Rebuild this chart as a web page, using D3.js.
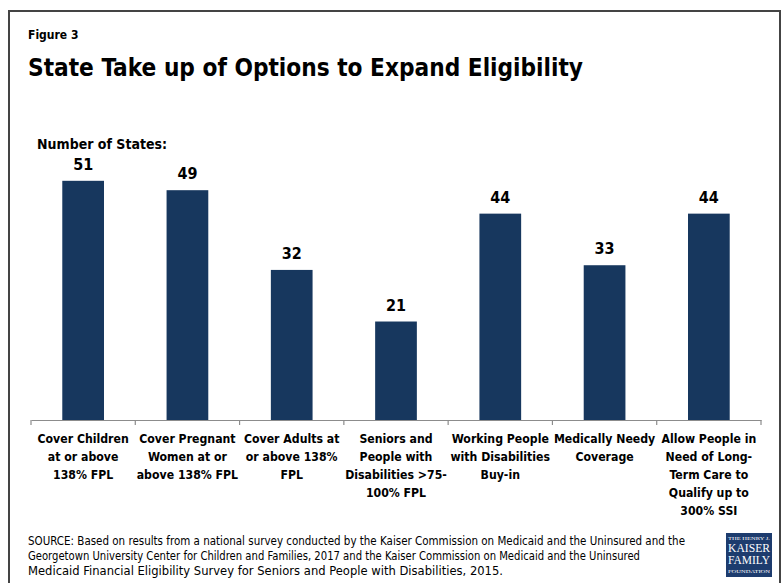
<!DOCTYPE html>
<html>
<head>
  <meta charset="utf-8">
  <script src="https://d3js.org/d3.v7.min.js"></script>
  <style>
    body { margin: 0; background: #fff; }
    text { font-family: "Liberation Sans Narrow", "DejaVu Sans Condensed", "Open Sans", sans-serif; }
  </style>
</head>
<body>
<script>
  // chart data
  var categories = ["Cover Children", "Cover Pregnant", "Cover Adults", "Seniors and People with Disabilities",
                    "Working People", "Medically Needy", "Allow People"];
  var values = [51, 49, 32, 21, 44, 33, 44];
  var labelLines = [
    ["Cover Children", "at or above", "138% FPL"],
    ["Cover Pregnant", "Women at or", "above 138% FPL"],
    ["Cover Adults at", "or above 138%", "FPL"],
    ["Seniors and", "People with", "Disabilities >75-", "100% FPL"],
    ["Working People", "with Disabilities", "Buy-in"],
    ["Medically Needy", "Coverage"],
    ["Allow People in", "Need of Long-", "Term Care to", "Qualify up to", "300% SSI"]
  ];
  var sourceLines = [
    "SOURCE: Based on results from a national survey conducted by the Kaiser Commission on Medicaid and the Uninsured and the",
    "Georgetown University Center for Children and Families, 2017 and the Kaiser Commission on Medicaid and the Uninsured",
    "Medicaid Financial Eligibility Survey for Seniors and People with Disabilities, 2015."
  ];

  var width = 784, height = 583;
  var svg = d3.select("body").append("svg")
      .attr("width", width).attr("height", height);

  // frame
  svg.append("path")
      .attr("d", "M9,583 V11 H780 V583")
      .attr("fill", "none")
      .attr("stroke", "#444")
      .attr("stroke-width", 2);

  svg.append("text").attr("x", 28).attr("y", 39)
      .style("font-size", "12px").style("font-weight", "bold")
      .text("Figure 3");

  svg.append("text").attr("x", 28).attr("y", 76)
      .style("font-size", "25px").style("font-weight", "bold")
      .attr("textLength", 555).attr("lengthAdjust", "spacingAndGlyphs")
      .text("State Take up of Options to Expand Eligibility");

  svg.append("text").attr("x", 37).attr("y", 149)
      .style("font-size", "14px").style("font-weight", "bold")
      .text("Number of States:");

  var x = d3.scaleBand().domain(categories).range([31, 761])
      .paddingInner(0.6).paddingOuter(0.3);
  var y = d3.scaleLinear().domain([0, 60]).range([420, 138.6]);

  var axis = svg.append("g").attr("transform", "translate(0,420)")
      .call(d3.axisBottom(x).tickSize(0).tickFormat(""));
  axis.select(".domain").attr("stroke", "#8c8c8c").attr("stroke-width", 1.2);

  // boundary ticks between categories
  var bounds = d3.range(categories.length + 1).map(function (i) { return 31 + i * x.step(); });
  svg.selectAll(".btick").data(bounds).enter().append("line")
      .attr("x1", function (d) { return d; }).attr("x2", function (d) { return d; })
      .attr("y1", 420).attr("y2", 425)
      .attr("stroke", "#8c8c8c").attr("stroke-width", 1.2);

  svg.selectAll(".bar").data(values).enter().append("rect")
      .attr("x", function (d, i) { return x(categories[i]); })
      .attr("y", function (d) { return y(d); })
      .attr("width", x.bandwidth())
      .attr("height", function (d) { return y(0) - y(d); })
      .attr("fill", "#17375e");

  svg.selectAll(".val").data(values).enter().append("text")
      .attr("x", function (d, i) { return x(categories[i]) + x.bandwidth() / 2; })
      .attr("y", function (d) { return y(d) - 11; })
      .attr("text-anchor", "middle")
      .style("font-size", "16px").style("font-weight", "bold")
      .text(function (d) { return d; });

  labelLines.forEach(function (lines, i) {
    var cx = x(categories[i]) + x.bandwidth() / 2;
    var t = svg.append("text").attr("text-anchor", "middle")
        .style("font-size", "12.2px").style("font-weight", "bold");
    lines.forEach(function (l, j) {
      t.append("tspan").attr("x", cx).attr("y", 443 + j * 18).text(l);
    });
  });

  var srcLens = [657, 612, 475];
  sourceLines.forEach(function (l, i) {
    svg.append("text").attr("x", 28).attr("y", 545 + i * 15)
        .style("font-size", "11.5px")
        .attr("textLength", srcLens[i]).attr("lengthAdjust", "spacingAndGlyphs")
        .text(l);
  });

  // logo
  var logo = svg.append("g").attr("transform", "translate(726,533)");
  logo.append("rect").attr("width", 46).attr("height", 44).attr("fill", "#1d3c6e");
  var lt = [["THE HENRY J.", 7, 4.5], ["KAISER", 19, 11.5], ["FAMILY", 31, 11.5], ["FOUNDATION", 40, 4.5]];
  var logoText = logo.append("text").attr("text-anchor", "middle")
      .style("font-family", "'Liberation Serif', 'DejaVu Serif', serif")
      .attr("fill", "#fff");
  lt.forEach(function (d) {
    logoText.append("tspan").attr("x", 23).attr("y", d[1])
        .attr("textLength", 42).attr("lengthAdjust", "spacingAndGlyphs")
        .style("font-size", d[2] + "px").text(d[0]);
  });
</script>
</body>
</html>
